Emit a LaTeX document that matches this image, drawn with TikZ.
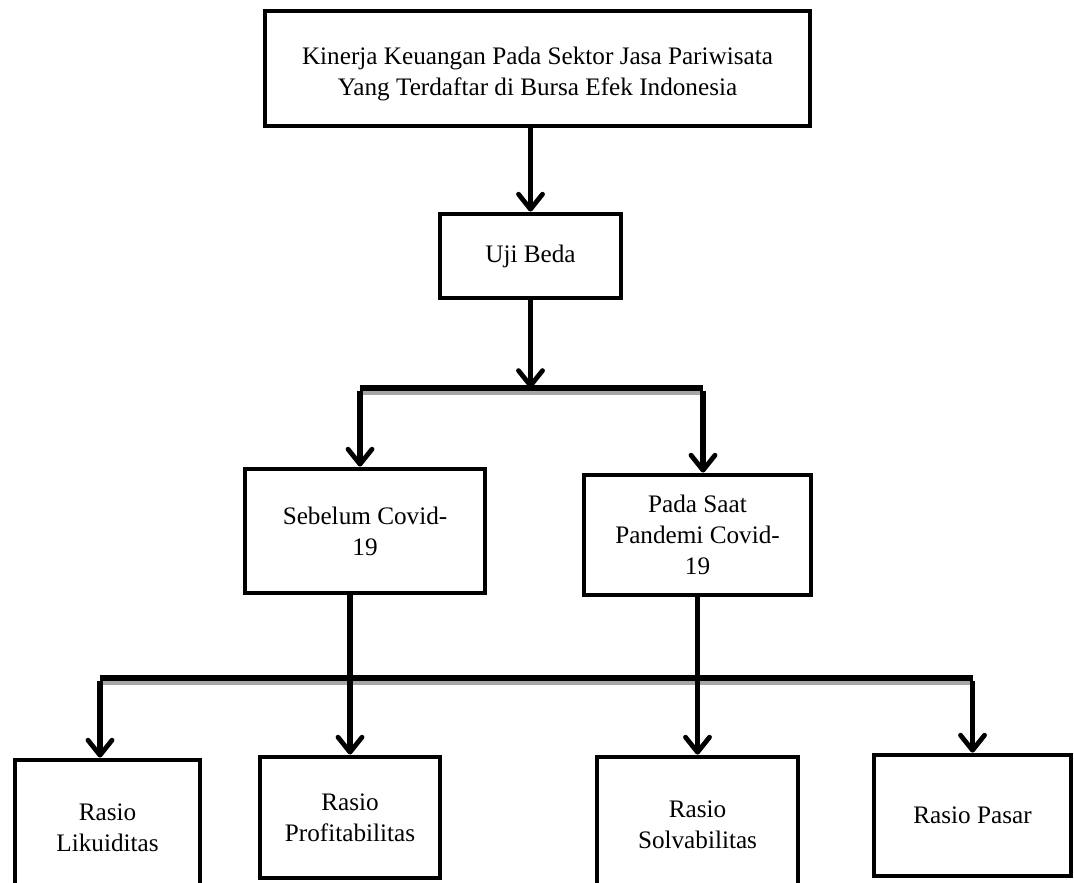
\documentclass[tikz,border=0pt]{standalone}
\usepackage{fontspec}
\setmainfont{Liberation Serif}
\usetikzlibrary{arrows.meta,positioning,calc}

\begin{document}
\begin{tikzpicture}[x=0.5pt,y=-0.5pt,
    kotak/.style={draw,line width=2.4pt,align=center,inner sep=0pt,
                  font=\fontsize{12.6}{15.5}\selectfont},
    panah/.style={line width=2.6pt,-{Straight Barb[length=7.5pt,width=12pt,line width=2.4pt,round]}},
    garis/.style={line width=2.6pt},
    bayang/.style={line width=2pt,gray!70}]
  \useasboundingbox (0,0) rectangle (1074,882);
  \clip (0,0) rectangle (1074,882);
  %% Boxes
  \node[kotak,minimum width=272.5pt,minimum height=57.5pt] (kinerja) at (537.5,68.5)
        {\rule{0pt}{14pt}Kinerja Keuangan Pada Sektor Jasa Pariwisata\\Yang Terdaftar di Bursa Efek Indonesia};
  \node[kotak,minimum width=90.5pt,minimum height=42pt] (uji) at (530.5,256) {Uji Beda};
  \node[kotak,minimum width=120pt,minimum height=62pt] (sebelum) at (365,531)
        {Sebelum Covid-\\19};
  \node[kotak,minimum width=113.5pt,minimum height=60pt] (pandemi) at (697.5,535)
        {Pada Saat\\Pandemi Covid-\\19};
  \node[kotak,minimum width=92.5pt,minimum height=67.5pt] (likuid) at (107.5,827.5)
        {Rasio\\Likuiditas};
  \node[kotak,minimum width=90pt,minimum height=60.5pt] (profit) at (350,817.5)
        {Rasio\\Profitabilitas};
  \node[kotak,minimum width=100.5pt,minimum height=67.5pt] (solva) at (697.5,824.5)
        {Rasio\\Solvabilitas};
  \node[kotak,minimum width=98.5pt,minimum height=60.5pt] (pasar) at (972.5,815.5)
        {Rasio Pasar};
  %% Bus points
  \coordinate (bus1) at (530.5,388);
  \coordinate (bus1l) at (360,388);
  \coordinate (bus1r) at (703,388);
  \coordinate (bus2l) at (100,678);
  \coordinate (bus2r) at (972.5,678);
  %% Connectors
  \draw[panah] (kinerja.south -| uji.north) -- (uji.north);
  \draw[panah] (uji.south) -- (bus1);
  \draw[bayang] ($(bus1l)+(0,5)$) -- ($(bus1r)+(0,5)$);
  \draw[garis] (bus1l) -- (bus1r);
  \draw[panah] ([yshift=-1.3pt]bus1l) -- (bus1l |- sebelum.north);
  \draw[panah] ([yshift=-1.3pt]bus1r) -- (bus1r |- pandemi.north);
  \draw[bayang] ($(bus2l)+(0,5)$) -- ($(bus2r)+(0,5)$);
  \draw[garis] (bus2l) -- (bus2r);
  \draw[panah] (sebelum.south -| profit.north) -- (profit.north);
  \draw[panah] (pandemi.south) -- (solva.north);
  \draw[panah] ([yshift=-1.3pt]bus2l) -- (bus2l |- likuid.north);
  \draw[panah] ([yshift=-1.3pt]bus2r) -- (pasar.north);
\end{tikzpicture}
\end{document}
